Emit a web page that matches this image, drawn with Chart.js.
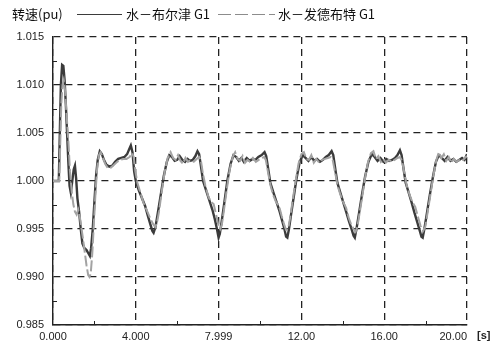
<!DOCTYPE html>
<html>
<head>
<meta charset="utf-8">
<script src="https://cdn.jsdelivr.net/npm/chart.js@4.4.1/dist/chart.umd.min.js"></script>
<style>
  html, body { margin: 0; padding: 0; background: #fff; }
  #wrap { width: 494px; height: 343px; position: relative; }
</style>
</head>
<body>
<div id="wrap"><canvas id="c" width="494" height="343"></canvas></div>
<script>
// Series names and axis labelling
const seriesNames = ['水－布尔津 G1', '水－发德布特 G1'];
const yAxisTitle = '转速(pu)';
const xAxisUnit = '[s]';

// Axis ticks
const xTickValues = [0, 4, 8, 12, 16, 20];
const xTickLabels = ['0.000', '4.000', '7.999', '12.00', '16.00', '20.00'];
const xMinorTicks = [2, 6, 10, 14, 18];
const yTickValues = [0.985, 0.990, 0.995, 1.000, 1.005, 1.010, 1.015];
const yTickLabels = ['0.985', '0.990', '0.995', '1.000', '1.005', '1.010', '1.015'];
const yMinorTicks = [0.9875, 0.9925, 0.9975, 1.0025, 1.0075, 1.0125];

// 水－布尔津 G1 : time (s) and speed (pu)
const burqinTime = [
  0, 0.28, 0.32, 0.38, 0.44, 0.50, 0.56, 0.62, 0.68, 0.74, 0.80, 0.86, 0.92, 1.00, 1.06, 1.12, 1.18, 1.26, 1.34, 1.42,
  1.52, 1.62, 1.70, 1.78, 1.84, 1.92, 2.00, 2.08, 2.16, 2.26, 2.36, 2.46, 2.58, 2.72, 2.86, 3.00, 3.15, 3.30, 3.45, 3.58,
  3.68, 3.76, 3.84, 3.92, 4.00, 4.15, 4.30, 4.45, 4.58, 4.70, 4.80, 4.86, 4.95, 5.05, 5.20, 5.35, 5.50, 5.62, 5.75, 5.88,
  6.00, 6.12, 6.25, 6.38, 6.50, 6.62, 6.75, 6.88, 6.98, 7.06, 7.15, 7.25, 7.40, 7.55, 7.70, 7.82, 7.92, 8.00, 8.06, 8.15,
  8.28, 8.42, 8.58, 8.72, 8.85, 8.98, 9.10, 9.22, 9.36, 9.50, 9.64, 9.78, 9.92, 10.08, 10.22, 10.30, 10.40, 10.50, 10.65, 10.80,
  10.95, 11.08, 11.18, 11.26, 11.32, 11.40, 11.50, 11.62, 11.76, 11.92, 12.06, 12.20, 12.34, 12.48, 12.62, 12.76, 12.90, 13.04, 13.18, 13.32,
  13.46, 13.54, 13.64, 13.74, 13.88, 14.02, 14.16, 14.30, 14.42, 14.52, 14.58, 14.66, 14.78, 14.92, 15.08, 15.24, 15.40, 15.54, 15.68, 15.82,
  15.96, 16.10, 16.24, 16.38, 16.52, 16.64, 16.76, 16.84, 16.94, 17.04, 17.18, 17.32, 17.46, 17.60, 17.72, 17.80, 17.86, 17.94, 18.06, 18.20,
  18.36, 18.50, 18.64, 18.78, 18.92, 19.06, 19.20, 19.34, 19.48, 19.62, 19.76, 19.88, 20.00
];
const burqinSpeed = [
  1.0000, 1.0000, 1.0040, 1.0100, 1.0121, 1.0120, 1.0105, 1.0080, 1.0050, 1.0020, 0.9995, 0.9988, 0.9998, 1.0012, 1.0016, 1.0002, 0.9982, 0.9968, 0.9950, 0.9935,
  0.9930, 0.9928, 0.9925, 0.9922, 0.9930, 0.9950, 0.9978, 1.0005, 1.0022, 1.0031, 1.0028, 1.0022, 1.0017, 1.0015, 1.0016, 1.0020, 1.0023, 1.0024, 1.0025, 1.0028,
  1.0033, 1.0037, 1.0030, 1.0010, 1.0000, 0.9990, 0.9982, 0.9974, 0.9964, 0.9955, 0.9948, 0.9946, 0.9952, 0.9965, 0.9985, 1.0005, 1.0020, 1.0027, 1.0025, 1.0021,
  1.0022, 1.0026, 1.0022, 1.0020, 1.0023, 1.0021, 1.0022, 1.0026, 1.0031, 1.0028, 1.0015, 1.0000, 0.9990, 0.9980, 0.9970, 0.9960, 0.9950, 0.9941, 0.9945, 0.9958,
  0.9978, 1.0000, 1.0018, 1.0027, 1.0025, 1.0021, 1.0024, 1.0020, 1.0024, 1.0021, 1.0023, 1.0022, 1.0025, 1.0027, 1.0030, 1.0026, 1.0012, 0.9998, 0.9988, 0.9978,
  0.9968, 0.9958, 0.9950, 0.9942, 0.9941, 0.9950, 0.9965, 0.9982, 1.0002, 1.0020, 1.0027, 1.0024, 1.0021, 1.0025, 1.0021, 1.0023, 1.0020, 1.0022, 1.0025, 1.0027,
  1.0031, 1.0027, 1.0012, 0.9998, 0.9988, 0.9978, 0.9968, 0.9958, 0.9950, 0.9943, 0.9941, 0.9950, 0.9966, 0.9985, 1.0005, 1.0020, 1.0028, 1.0025, 1.0021, 1.0024,
  1.0020, 1.0023, 1.0021, 1.0022, 1.0024, 1.0027, 1.0032, 1.0027, 1.0012, 0.9998, 0.9988, 0.9978, 0.9967, 0.9957, 0.9948, 0.9942, 0.9941, 0.9950, 0.9966, 0.9985,
  1.0005, 1.0020, 1.0027, 1.0024, 1.0021, 1.0025, 1.0021, 1.0023, 1.0020, 1.0022, 1.0024, 1.0022, 1.0028
];

// 水－发德布特 G1 : time (s) and speed (pu)
const fadebuteTime = [
  0, 0.30, 0.34, 0.40, 0.46, 0.52, 0.58, 0.64, 0.70, 0.76, 0.82, 0.90, 0.98, 1.06, 1.14, 1.22, 1.30, 1.38, 1.46, 1.54,
  1.62, 1.70, 1.76, 1.82, 1.90, 1.98, 2.06, 2.14, 2.22, 2.30, 2.40, 2.52, 2.66, 2.80, 2.95, 3.10, 3.25, 3.40, 3.55, 3.70,
  3.82, 3.90, 3.98, 4.08, 4.22, 4.36, 4.48, 4.60, 4.72, 4.84, 4.94, 5.02, 5.12, 5.26, 5.40, 5.54, 5.68, 5.80, 5.92, 6.04,
  6.16, 6.28, 6.40, 6.52, 6.66, 6.80, 6.94, 7.06, 7.14, 7.24, 7.36, 7.50, 7.64, 7.76, 7.88, 7.98, 8.08, 8.16, 8.26, 8.40,
  8.54, 8.68, 8.80, 8.92, 9.04, 9.16, 9.28, 9.40, 9.52, 9.66, 9.80, 9.94, 10.08, 10.20, 10.28, 10.38, 10.50, 10.64, 10.78, 10.92,
  11.04, 11.16, 11.26, 11.36, 11.46, 11.58, 11.72, 11.86, 12.00, 12.12, 12.24, 12.36, 12.48, 12.60, 12.72, 12.86, 13.00, 13.14, 13.28, 13.42,
  13.52, 13.62, 13.74, 13.88, 14.02, 14.16, 14.28, 14.40, 14.52, 14.62, 14.70, 14.80, 14.94, 15.08, 15.22, 15.36, 15.48, 15.60, 15.72, 15.84,
  15.96, 16.08, 16.22, 16.36, 16.50, 16.64, 16.76, 16.86, 16.96, 17.08, 17.22, 17.36, 17.50, 17.64, 17.76, 17.88, 17.98, 18.08, 18.22, 18.38,
  18.52, 18.64, 18.76, 18.88, 19.00, 19.12, 19.24, 19.36, 19.50, 19.64, 19.78, 19.90, 20.00
];
const fadebuteSpeed = [
  1.0000, 1.0000, 1.0030, 1.0080, 1.0100, 1.0105, 1.0095, 1.0075, 1.0055, 1.0035, 1.0010, 0.9990, 0.9976, 0.9968, 0.9965, 0.9970, 0.9962, 0.9950, 0.9938, 0.9925,
  0.9912, 0.9902, 0.9900, 0.9903, 0.9925, 0.9958, 0.9990, 1.0015, 1.0027, 1.0030, 1.0025, 1.0018, 1.0013, 1.0014, 1.0017, 1.0020, 1.0022, 1.0023, 1.0023, 1.0025,
  1.0029, 1.0025, 1.0010, 0.9998, 0.9988, 0.9978, 0.9972, 0.9966, 0.9960, 0.9955, 0.9952, 0.9956, 0.9968, 0.9990, 1.0010, 1.0024, 1.0030, 1.0024, 1.0022, 1.0027,
  1.0021, 1.0018, 1.0024, 1.0020, 1.0022, 1.0020, 1.0023, 1.0025, 1.0022, 1.0008, 0.9995, 0.9984, 0.9978, 0.9976, 0.9965, 0.9955, 0.9950, 0.9955, 0.9970, 0.9992,
  1.0012, 1.0025, 1.0030, 1.0023, 1.0021, 1.0026, 1.0019, 1.0022, 1.0020, 1.0024, 1.0020, 1.0022, 1.0024, 1.0025, 1.0022, 1.0010, 0.9996, 0.9985, 0.9978, 0.9974,
  0.9964, 0.9955, 0.9949, 0.9950, 0.9962, 0.9980, 1.0000, 1.0018, 1.0028, 1.0030, 1.0023, 1.0022, 1.0027, 1.0019, 1.0023, 1.0019, 1.0022, 1.0023, 1.0024, 1.0025,
  1.0021, 1.0010, 0.9996, 0.9986, 0.9978, 0.9972, 0.9962, 0.9955, 0.9950, 0.9947, 0.9952, 0.9965, 0.9984, 1.0004, 1.0020, 1.0029, 1.0031, 1.0023, 1.0026, 1.0020,
  1.0023, 1.0019, 1.0022, 1.0020, 1.0022, 1.0024, 1.0025, 1.0021, 1.0010, 0.9996, 0.9986, 0.9978, 0.9973, 0.9962, 0.9953, 0.9948, 0.9952, 0.9965, 0.9984, 1.0006,
  1.0022, 1.0030, 1.0024, 1.0028, 1.0021, 1.0025, 1.0019, 1.0023, 1.0020, 1.0022, 1.0021, 1.0024, 1.0026
];

const toPoints = (ts, vs) => ts.map((t, i) => ({ x: t, y: vs[i] }));

const DARK = '#3b3b3b';
const GREY = '#a3a3a3';
const LABEL_FONT = '11px "Liberation Sans", Arial, sans-serif';
const CJK_FONT = '13px "Noto Sans CJK SC", "Liberation Sans", sans-serif';

// Legend, axis captions, x tick labels and minor ticks
const decorations = {
  id: 'decorations',
  afterDraw(chart) {
    const { ctx, chartArea: a, scales: { x, y } } = chart;
    ctx.save();

    // minor ticks on the left and bottom axes
    ctx.strokeStyle = '#222';
    ctx.lineWidth = 1;
    ctx.setLineDash([]);
    yMinorTicks.forEach(v => {
      const py = Math.round(y.getPixelForValue(v)) + 0.5;
      ctx.beginPath(); ctx.moveTo(a.left, py); ctx.lineTo(a.left + 4, py); ctx.stroke();
    });
    xMinorTicks.forEach(v => {
      const px = Math.round(x.getPixelForValue(v)) + 0.5;
      ctx.beginPath(); ctx.moveTo(px, a.bottom); ctx.lineTo(px, a.bottom - 4); ctx.stroke();
    });

    // x tick labels (the last one is kept inside the plot width)
    ctx.fillStyle = '#222';
    ctx.font = LABEL_FONT;
    ctx.textBaseline = 'alphabetic';
    xTickValues.forEach((v, i) => {
      const px = x.getPixelForValue(v);
      ctx.textAlign = i === xTickValues.length - 1 ? 'right' : 'center';
      ctx.fillText(xTickLabels[i], px, 340);
    });
    ctx.textAlign = 'left';
    ctx.font = 'bold 11px "Liberation Sans", Arial, sans-serif';
    ctx.fillText(xAxisUnit, 477, 339);

    // y axis caption and legend
    ctx.font = CJK_FONT;
    ctx.textBaseline = 'middle';
    ctx.fillStyle = '#111';
    ctx.fillText(yAxisTitle, 12, 14);

    const ly = 14.5;
    ctx.strokeStyle = DARK;
    ctx.lineWidth = 1.2;
    ctx.beginPath(); ctx.moveTo(77, ly); ctx.lineTo(122, ly); ctx.stroke();
    ctx.fillText(seriesNames[0], 126, 14);

    ctx.strokeStyle = '#8c8c8c';
    ctx.setLineDash([13, 4]);
    ctx.beginPath(); ctx.moveTo(218, ly); ctx.lineTo(275, ly); ctx.stroke();
    ctx.setLineDash([]);
    ctx.fillText(seriesNames[1], 278, 14);

    ctx.restore();
  }
};

new Chart(document.getElementById('c'), {
  type: 'line',
  data: {
    datasets: [
      {
        label: seriesNames[0],
        data: toPoints(burqinTime, burqinSpeed),
        borderColor: DARK,
        borderWidth: 2.4,
        pointRadius: 0,
        tension: 0,
        fill: false,
        order: 2
      },
      {
        label: seriesNames[1],
        data: toPoints(fadebuteTime, fadebuteSpeed),
        borderColor: GREY,
        borderWidth: 2,
        borderDash: [11, 3],
        pointRadius: 0,
        tension: 0,
        fill: false,
        order: 1
      }
    ]
  },
  options: {
    responsive: false,
    animation: false,
    devicePixelRatio: 1,
    layout: { padding: { top: 37, right: 27, left: 0, bottom: 0 } },
    plugins: {
      legend: { display: false },
      tooltip: { enabled: false },
      title: { display: false }
    },
    scales: {
      x: {
        type: 'linear',
        min: 0,
        max: 20,
        afterBuildTicks(scale) { scale.ticks = xTickValues.map(v => ({ value: v })); },
        afterFit(scale) { scale.height = 18; },
        ticks: { display: false },
        grid: { color: '#222', lineWidth: 1.3, drawTicks: false, tickLength: 0 },
        border: { display: true, color: '#222', width: 1.4, dash: [7, 5] }
      },
      y: {
        type: 'linear',
        min: 0.985,
        max: 1.015,
        afterBuildTicks(scale) { scale.ticks = yTickValues.map(v => ({ value: v })); },
        afterFit(scale) { scale.width = 53; },
        ticks: {
          color: '#222',
          font: { family: '"Liberation Sans", Arial, sans-serif', size: 11 },
          padding: 9,
          callback(value) {
            const i = yTickValues.findIndex(v => Math.abs(v - value) < 1e-9);
            return i >= 0 ? yTickLabels[i] : '';
          }
        },
        grid: { color: '#222', lineWidth: 1.3, drawTicks: false, tickLength: 0 },
        border: { display: true, color: '#222', width: 1.4, dash: [7, 5] }
      }
    }
  },
  plugins: [decorations]
});
</script>
</body>
</html>
